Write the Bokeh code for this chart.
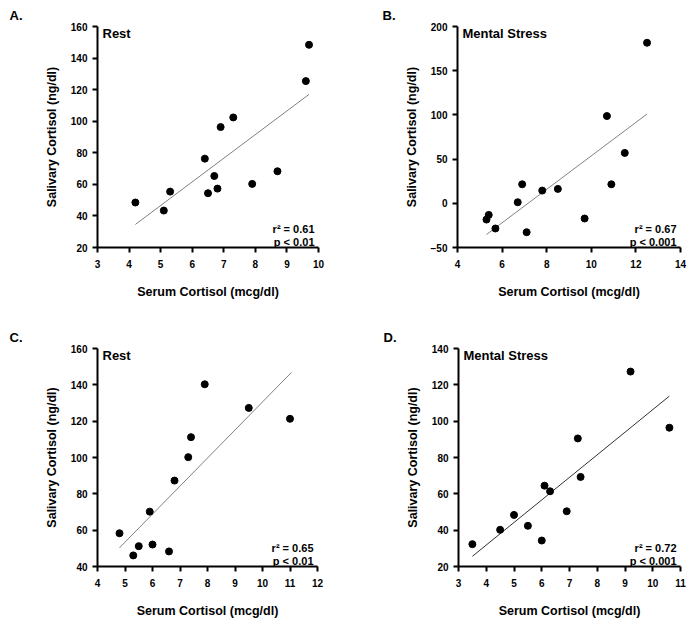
from bokeh.plotting import figure
from bokeh.models import Label, FixedTicker, Range1d
from bokeh.layouts import column, row
from bokeh.embed import file_html
from bokeh.resources import INLINE

# ---------------- data ----------------
# Panel A: Rest
a_serum = [4.2, 5.1, 5.3, 6.4, 6.5, 6.7, 6.8, 6.9, 7.3, 7.9, 8.7, 9.6, 9.7]
a_saliva = [48.5, 43.4, 55.4, 76.3, 54.4, 65.3, 57.3, 96.3, 102.4, 60.3, 68.3, 125.4, 148.4]
a_fit_x = [4.2, 9.7]
a_fit_y = [34.6, 117.0]
a_xticks = [3, 4, 5, 6, 7, 8, 9, 10]
a_yticks = [20, 40, 60, 80, 100, 120, 140, 160]

# Panel B: Mental Stress
b_serum = [5.3, 5.4, 5.7, 6.7, 6.9, 7.1, 7.8, 8.5, 9.7, 10.7, 10.9, 11.5, 12.5]
b_saliva = [-18.4, -13.1, -28.5, 1.2, 21.5, -32.7, 14.4, 16.3, -17.2, 98.7, 21.5, 57.0, 181.6]
b_fit_x = [5.3, 12.5]
b_fit_y = [-35.3, 101.0]
b_xticks = [4, 6, 8, 10, 12, 14]
b_yticks = [-50, 0, 50, 100, 150, 200]

# Panel C: Rest
c_serum = [4.8, 5.3, 5.5, 5.9, 6.0, 6.6, 6.8, 7.3, 7.4, 7.9, 9.5, 11.0]
c_saliva = [58.3, 46.1, 51.2, 70.2, 52.1, 48.3, 87.3, 100.2, 111.2, 140.3, 127.3, 121.3]
c_fit_x = [4.8, 11.05]
c_fit_y = [50.3, 146.8]
c_xticks = [4, 5, 6, 7, 8, 9, 10, 11, 12]
c_yticks = [40, 60, 80, 100, 120, 140, 160]

# Panel D: Mental Stress
d_serum = [3.5, 4.5, 5.0, 5.5, 6.0, 6.1, 6.3, 6.9, 7.3, 7.4, 9.2, 10.6]
d_saliva = [32.3, 40.2, 48.4, 42.4, 34.3, 64.5, 61.4, 50.4, 90.5, 69.3, 127.3, 96.4]
d_fit_x = [3.5, 10.6]
d_fit_y = [25.6, 113.8]
d_xticks = [3, 4, 5, 6, 7, 8, 9, 10, 11]
d_yticks = [20, 40, 60, 80, 100, 120, 140]

letters = ["A.", "B.", "C.", "D."]
conditions = ["Rest", "Mental Stress", "Rest", "Mental Stress"]
r2_texts = ["r\u00b2 = 0.61", "r\u00b2 = 0.67", "r\u00b2 = 0.65", "r\u00b2 = 0.72"]
p_texts = ["p < 0.01", "p < 0.001", "p < 0.01", "p < 0.001"]

x_label = "Serum Cortisol (mcg/dl)"
y_label = "Salivary Cortisol (ng/dl)"

FONT = "Liberation Sans"


def make_panel(xs, ys, fx, fy, xticks, yticks, letter, cond, r2, pv,
               width, height, left, right, top, bottom, letter_dx, fit_color):
    xr = Range1d(xticks[0], xticks[-1])
    yr = Range1d(yticks[0], yticks[-1])
    p = figure(width=width, height=height, x_range=xr, y_range=yr,
               output_backend="svg", toolbar_location=None, title=letter,
               min_border_left=left, min_border_right=right,
               min_border_top=top, min_border_bottom=bottom)
    p.outline_line_color = None
    p.xgrid.visible = False
    p.ygrid.visible = False
    p.background_fill_color = "white"
    p.border_fill_color = "white"

    p.title.align = "left"
    p.title.offset = letter_dx
    p.title.text_font = FONT
    p.title.text_font_style = "bold"
    p.title.text_font_size = "13px"
    p.title.text_color = "black"
    p.title.standoff = 7

    for ax, ticks in ((p.xaxis[0], xticks), (p.yaxis[0], yticks)):
        ax.ticker = FixedTicker(ticks=ticks)
        ax.axis_line_width = 2
        ax.axis_line_color = "black"
        ax.major_tick_line_width = 2
        ax.major_tick_line_color = "black"
        ax.major_tick_out = 5
        ax.major_tick_in = 0
        ax.minor_tick_line_color = None
        ax.major_label_text_font = FONT
        ax.major_label_text_font_style = "bold"
        ax.major_label_text_font_size = "10px"
        ax.major_label_text_color = "black"
        ax.axis_label_text_font = FONT
        ax.axis_label_text_font_style = "bold"
        ax.axis_label_text_font_size = "12.5px"
        ax.axis_label_text_color = "black"
    p.xaxis.axis_label = x_label
    p.yaxis.axis_label = y_label
    p.xaxis.major_label_standoff = 7
    p.xaxis.axis_label_standoff = 14
    p.yaxis.major_label_standoff = 5
    p.yaxis.axis_label_standoff = 9

    p.line(fx, fy, line_color=fit_color, line_width=1)
    p.scatter(xs, ys, size=7, marker="circle", fill_color="black", line_color="black")

    p.add_layout(Label(x=xticks[0], y=yticks[-1], text=cond, x_offset=5, y_offset=1,
                       text_baseline="top", text_font=FONT, text_font_style="bold",
                       text_font_size="13px", text_color="black"))
    p.add_layout(Label(x=xticks[-1], y=yticks[0], text=r2, x_offset=-4, y_offset=19,
                       text_align="right", text_baseline="alphabetic", text_font=FONT,
                       text_font_style="bold", text_font_size="11px", text_color="black"))
    p.add_layout(Label(x=xticks[-1], y=yticks[0], text=pv, x_offset=-4, y_offset=6,
                       text_align="right", text_baseline="alphabetic", text_font=FONT,
                       text_font_style="bold", text_font_size="11px", text_color="black"))
    return p


pa = make_panel(a_serum, a_saliva, a_fit_x, a_fit_y, a_xticks, a_yticks,
                letters[0], conditions[0], r2_texts[0], p_texts[0],
                347, 314, 97, 29, 26, 67, -88, "#808080")
pb = make_panel(b_serum, b_saliva, b_fit_x, b_fit_y, b_xticks, b_yticks,
                letters[1], conditions[1], r2_texts[1], p_texts[1],
                340, 314, 110, 7, 26, 67, -75, "#808080")
pc = make_panel(c_serum, c_saliva, c_fit_x, c_fit_y, c_xticks, c_yticks,
                letters[2], conditions[2], r2_texts[2], p_texts[2],
                347, 306, 97, 30, 34, 51, -88, "#808080")
pd_ = make_panel(d_serum, d_saliva, d_fit_x, d_fit_y, d_xticks, d_yticks,
                 letters[3], conditions[3], r2_texts[3], p_texts[3],
                 340, 306, 111, 7, 34, 51, -75, "#333333")

layout = column(row(pa, pb), row(pc, pd_))
open("out.html", "w").write(file_html(layout, INLINE))
